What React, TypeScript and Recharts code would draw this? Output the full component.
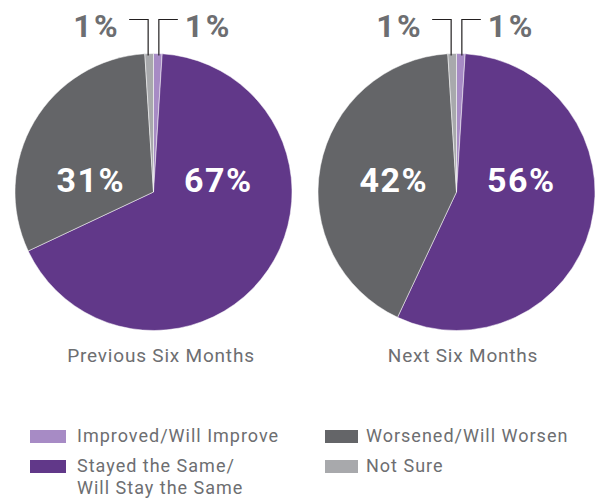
import { PieChart, Pie, Cell, Legend } from 'recharts';

// Survey answers, drawn clockwise from 12 o'clock
const categories = ['Improved/Will Improve', 'Stayed the Same/\nWill Stay the Same', 'Worsened/Will Worsen', 'Not Sure'];
const previousValues = [1, 67, 31, 1];
const nextValues = [1, 56, 42, 1];
const panelTitles = ['Previous Six Months', 'Next Six Months'];
const colors = ['#a78bc5', '#613889', '#646568', '#a8a9ac'];

const FONT = 'Roboto, "Noto Sans", sans-serif';
const TEXT_GRAY = '#6d6e71';
const RADIAN = Math.PI / 180;

const previousData = categories.map((name, i) => ({ name, value: previousValues[i] }));
const nextData = categories.map((name, i) => ({ name, value: nextValues[i] }));

function renderLabel(props: any) {
  const { cx, cy, midAngle, outerRadius, percent, value } = props;
  const cos = Math.cos(-midAngle * RADIAN);
  const sin = Math.sin(-midAngle * RADIAN);
  const dir = cos >= 0 ? 1 : -1;

  if (percent < 0.05) {
    // small slice: leader line up out of the top, then sideways
    const x0 = cx + outerRadius * cos + dir * 1;
    const y0 = cy + outerRadius * sin + 2;
    const yTop = cy - outerRadius - 34;
    const x1 = x0 + dir * 19;
    return (
      <g>
        <path d={`M${x0},${y0} L${x0},${yTop} L${x1},${yTop}`} stroke="#231f20" strokeWidth={1.2} fill="none" />
        <text
          x={x1 + dir * (dir > 0 ? 7 : 9)}
          y={yTop + 17}
          textAnchor={dir > 0 ? 'start' : 'end'}
          fill={TEXT_GRAY}
          fontFamily={FONT}
          fontWeight={700}
          fontSize={32}
          letterSpacing={2.5}
        >
          {`${value}%`}
        </text>
      </g>
    );
  }

  return (
    <text
      x={cx + dir * outerRadius * 0.46 + 1}
      y={cy}
      textAnchor="middle"
      fill="#ffffff"
      fontFamily={FONT}
      fontWeight={700}
      fontSize={34}
      letterSpacing={1.5}
    >
      {`${value}%`}
    </text>
  );
}

function renderLegend() {
  const columns = [
    [0, 1],
    [2, 3],
  ];
  const colX = [30, 325];
  const boxW = [36, 33];
  const gap = [11, 8];
  const rowY = [0, 30];
  return (
    <div style={{ position: 'relative', width: 595, height: 80 }}>
      {columns.map((col, c) =>
        col.map((idx, r) => (
          <div
            key={idx}
            style={{
              position: 'absolute',
              left: colX[c],
              top: rowY[r],
              display: 'flex',
              alignItems: 'flex-start',
            }}
          >
            <div style={{ width: boxW[c], height: 13, background: colors[idx], marginTop: 2 }} />
            <div
              style={{
                marginLeft: gap[c],
                marginTop: -3,
                fontFamily: FONT,
                fontSize: 18,
                lineHeight: '22px',
                letterSpacing: 1,
                color: TEXT_GRAY,
                whiteSpace: 'pre',
                textAlign: 'left',
              }}
            >
              {categories[idx]}
            </div>
          </div>
        ))
      )}
    </div>
  );
}

export default function App() {
  return (
    <div style={{ position: 'absolute', left: 0, top: 0, width: 595, height: 500, background: '#fff' }}>
      <PieChart width={595} height={500} margin={{ top: 0, right: 0, bottom: 0, left: 0 }}>
        <Pie
          data={previousData}
          dataKey="value"
          nameKey="name"
          cx={153.5}
          cy={192}
          outerRadius={138.5}
          startAngle={90}
          endAngle={-270}
          stroke="#ffffff"
          strokeWidth={0.5}
          label={renderLabel}
          labelLine={false}
          isAnimationActive={false}
        >
          {previousData.map((d, i) => (
            <Cell key={d.name} fill={colors[i]} />
          ))}
        </Pie>
        <Pie
          data={nextData}
          dataKey="value"
          nameKey="name"
          cx={456.5}
          cy={192}
          outerRadius={138.5}
          startAngle={90}
          endAngle={-270}
          stroke="#ffffff"
          strokeWidth={0.5}
          label={renderLabel}
          labelLine={false}
          isAnimationActive={false}
        >
          {nextData.map((d, i) => (
            <Cell key={d.name} fill={colors[i]} />
          ))}
        </Pie>
        <Legend content={renderLegend} wrapperStyle={{ left: 0, top: 428, width: 595 }} />
      </PieChart>
      {panelTitles.map((t, i) => (
        <div
          key={t}
          style={{
            position: 'absolute',
            left: i === 0 ? 61 : 363,
            top: 344,
            width: 200,
            textAlign: 'center',
            fontFamily: FONT,
            fontSize: 19,
            letterSpacing: 0.8,
            color: TEXT_GRAY,
          }}
        >
          {t}
        </div>
      ))}
    </div>
  );
}
